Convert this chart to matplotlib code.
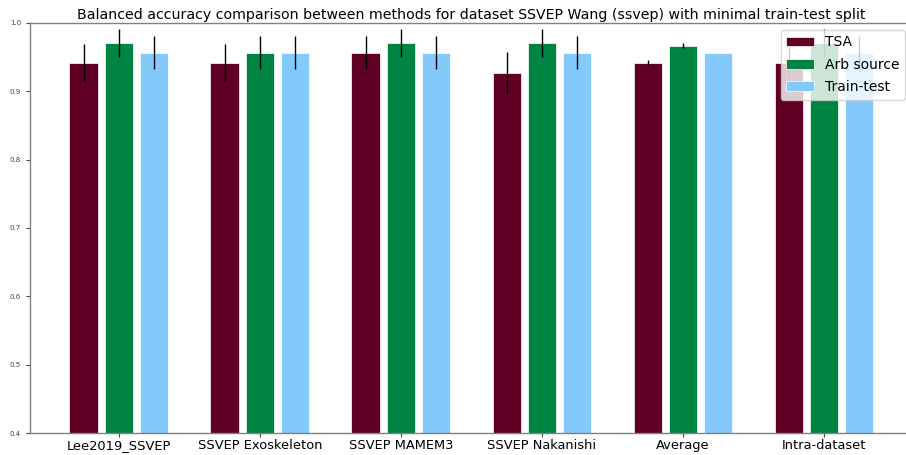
import matplotlib
matplotlib.use("Agg")
import matplotlib.pyplot as plt
import numpy as np

categories = ["Lee2019_SSVEP", "SSVEP Exoskeleton", "SSVEP MAMEM3", "SSVEP Nakanishi", "Average", "Intra-dataset"]
methods = ["TSA", "Arb source", "Train-test"]
tsa_vals = [0.9418, 0.9418, 0.9563, 0.9266, 0.9414, 0.9418]
tsa_err = [0.0276, 0.0276, 0.0246, 0.0306, 0.0050, 0.0276]
arb_vals = [0.9709, 0.9566, 0.9709, 0.9709, 0.9670, 0.9709]
arb_err = [0.0204, 0.0246, 0.0204, 0.0204, 0.0034, 0.0204]
tt_vals = [0.9566, 0.9566, 0.9566, 0.9566, 0.9566, 0.9566]
tt_err = [0.0246, 0.0246, 0.0246, 0.0246, 0.0, 0.0246]
colors = ["#600024", "#008442", "#83c9fb"]

fig = plt.figure(figsize=(9.06, 4.55), dpi=100)
ax = fig.add_axes([30/906, 22/455, 882/906, 410/455])

x = np.arange(len(categories))
w = 0.2
step = 0.25
series = [(tsa_vals, tsa_err), (arb_vals, arb_err), (tt_vals, tt_err)]
for i, ((v, e), c, m) in enumerate(zip(series, colors, methods)):
    ax.bar(x + (i - 1) * step, v, width=w, color=c, label=m,
           yerr=e, ecolor="black", error_kw=dict(elinewidth=1.0),
           edgecolor="white", linewidth=0.5)

ax.set_ylim(0.4, 1.0)
ax.set_xlim(-0.63, 5.625)
ax.set_xticks(x)
ax.set_xticklabels(categories, fontsize=9.4)
ax.tick_params(axis="y", labelsize=5, length=3, width=0.8, colors="#444444")
ax.tick_params(axis="x", length=3, width=0.8, colors="#444444", labelcolor="black", pad=1.5)
for s in ax.spines.values():
    s.set_color("#808080")
    s.set_linewidth(1.0)
ax.spines["right"].set_visible(False)
ax.set_title("Balanced accuracy comparison between methods for dataset SSVEP Wang (ssvep) with minimal train-test split",
             fontsize=10.2, pad=3)
ax.legend(loc="upper right", fontsize=10, borderaxespad=0.5, labelspacing=0.6)

fig.savefig("out.png", dpi=100)
